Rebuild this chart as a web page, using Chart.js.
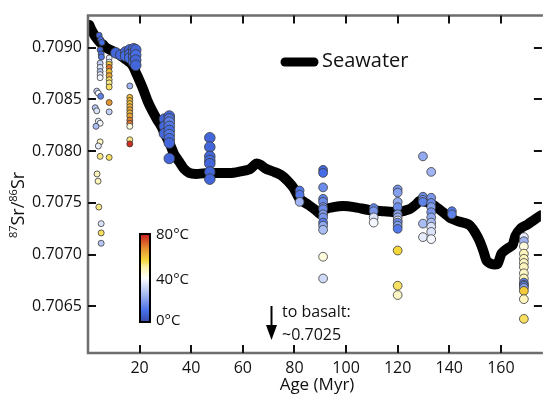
<!DOCTYPE html>
<html><head><meta charset="utf-8">
<script src="https://cdn.jsdelivr.net/npm/chart.js@4.4.1/dist/chart.umd.min.js"></script>
<style>html,body{margin:0;padding:0;background:#fff}#wrap{width:547px;height:399px}</style>
</head><body><div id="wrap"><canvas id="c" width="547" height="399"></canvas></div>
<script>
const xTicks=[20,40,60,80,100,120,140,160];
const yTicks=[0.7065,0.7070,0.7075,0.7080,0.7085,0.7090];

const seaAge=[0.5,1.6,2.8,4.7,5.8,7.0,9.3,12.3,15.0,16.6,17.7,18.9,20.0,21.2,23.0,24.9,26.9,28.4,30.3,31.9,33.4,35.3,37.2,39.2,41.8,46.8,55.6,60.2,62.9,65.2,66.7,69.0,72.1,74.8,77.5,79.8,81.7,83.6,85.5,88.2,90.1,92.0,95.1,98.9,103.1,109.3,114.6,119.6,124.6,127.3,128.4,131.1,133.8,137.6,140.7,143.8,147.6,149.9,151.8,153.3,154.5,156.4,158.7,160.2,162.5,164.5,165.6,167.9,170.2,172.5,175.5];
const seaSr=[0.70922,0.70916,0.70911,0.70905,0.70903,0.70900,0.70897,0.70893,0.70888,0.70885,0.70881,0.70874,0.70868,0.70861,0.70849,0.70839,0.70830,0.70824,0.70814,0.70806,0.70797,0.70790,0.70783,0.70779,0.70778,0.70779,0.70779,0.70781,0.70783,0.70788,0.70787,0.70783,0.70780,0.70777,0.70771,0.70764,0.70755,0.70751,0.70748,0.70743,0.70739,0.70744,0.70746,0.70747,0.70746,0.70743,0.70742,0.70741,0.70744,0.70749,0.70752,0.70751,0.70748,0.70741,0.70735,0.70732,0.70729,0.70722,0.70713,0.70703,0.70694,0.70691,0.70691,0.70701,0.70706,0.70709,0.70718,0.70726,0.70729,0.70733,0.70738];

// young crust & 16 Myr column (small symbols)
const smallAge=[4.3,4.9,5.4,4.7,5.1,5.2,4.7,4.7,4.7,4.7,4.7,8.2,8.2,8.2,8.2,8.2,8.2,8.2,8.2,8.2,8.2,8.2,3.4,4.0,4.9,2.8,3.4,4.0,4.7,3.1,4.7,4.0,4.7,8.2,3.5,3.9,4.2,5.1,5.1,5.1,16.2,16.2,16.2,16.2,16.2,16.2,16.2,16.2,16.2,16.2,16.2,16.2,16.2];
const smallSr=[0.70912,0.70908,0.70905,0.70898,0.70894,0.70891,0.70885,0.70881,0.70877,0.70874,0.70871,0.70890,0.70886,0.70884,0.70881,0.70877,0.70873,0.70869,0.70866,0.70862,0.70847,0.70838,0.70858,0.70856,0.70853,0.70842,0.70839,0.70829,0.70827,0.70824,0.70809,0.70805,0.70795,0.70794,0.70778,0.70771,0.70746,0.70730,0.70721,0.70711,0.70863,0.70852,0.70849,0.70846,0.70843,0.70840,0.70837,0.70834,0.70830,0.70827,0.70824,0.70811,0.70807];
const smallTemp=[8,8,10,8,10,12,30,34,28,36,38,36,38,58,70,60,64,54,52,54,66,30,30,38,14,28,34,36,38,26,48,36,52,54,48,48,52,34,54,28,24,60,62,60,62,64,62,64,68,70,44,52,78];

// large symbols
const bigAge=[10.8,12.7,14.6,14.6,16.2,16.2,16.2,17.7,17.7,17.7,17.7,18.5,18.5,18.5,18.5,29.6,29.6,29.6,31.5,31.5,31.5,31.5,31.5,31.5,31.5,31.5,31.5,47.2,47.2,47.2,47.2,47.2,47.2,47.2];
const bigSr=[0.70895,0.70893,0.70896,0.70892,0.70898,0.70894,0.70890,0.70899,0.70895,0.70891,0.70886,0.70898,0.70893,0.70888,0.70883,0.70831,0.70824,0.70817,0.70834,0.70831,0.70828,0.70824,0.70820,0.70816,0.70812,0.70808,0.70793,0.70813,0.70804,0.70795,0.70791,0.70788,0.70780,0.70773];
const bigTemp=[8,8,8,10,8,8,10,8,10,8,10,8,10,8,8,8,8,8,8,12,14,12,10,12,10,8,8,8,8,8,10,8,8,8];

// medium symbols
const midAge=[82,82,82,91.1,91.1,91.1,91.1,91.1,91.1,91.1,91.1,91.1,91.1,91.1,91.1,91.1,91.1,110.7,110.7,110.7,110.7,120,120,120,120,120,120,120,120,120,120,120,120,120,129.8,129.8,129.8,129.8,129.8,129.8,133,133,133,133,133,133,133,133,133,133,141,141,168.9,168.9,168.9,168.9,168.9,168.9,168.9,168.9,168.9,168.9,168.9,168.9,168.9,168.9,168.9,168.9];
const midSr=[0.70762,0.70758,0.70751,0.70782,0.70779,0.70765,0.70754,0.70751,0.70746,0.70744,0.70739,0.70736,0.70731,0.70728,0.70724,0.70698,0.70677,0.70745,0.70742,0.70736,0.70731,0.70763,0.70760,0.70751,0.70746,0.70739,0.70736,0.70733,0.70731,0.70728,0.70725,0.70704,0.70670,0.70661,0.70795,0.70756,0.70753,0.70751,0.70730,0.70717,0.70780,0.70755,0.70750,0.70746,0.70741,0.70736,0.70731,0.70727,0.70722,0.70715,0.70742,0.70739,0.70717,0.70713,0.70708,0.70701,0.70696,0.70692,0.70688,0.70682,0.70677,0.70673,0.70671,0.70670,0.70668,0.70665,0.70657,0.70638];
const midTemp=[12,12,24,8,10,16,14,16,18,16,20,18,12,22,26,44,32,14,18,34,38,18,20,22,16,20,24,34,16,20,12,56,54,47,22,16,18,14,26,36,24,18,16,20,18,22,26,34,34,38,12,14,36,24,44,48,48,47,48,47,48,14,18,14,20,58,48,54];

const cbarLabels=['80°C','40°C','0°C'];
const cmap=[[0,[55,75,170]],[10,[70,110,230]],[25,[165,185,242]],[40,[255,255,255]],[50,[252,242,170]],[56,[245,215,60]],[66,[230,150,50]],[80,[200,30,30]]];
function tempColor(t){
  t=Math.max(0,Math.min(80,t));
  for(let i=0;i<cmap.length-1;i++){
    const a=cmap[i][0],ca=cmap[i][1],b=cmap[i+1][0],cb=cmap[i+1][1];
    if(t<=b){const f=(t-a)/(b-a);const c=ca.map((v,k)=>Math.round(v+(cb[k]-v)*f));return 'rgb('+c.join(',')+')';}
  }
  return 'rgb(200,30,30)';
}
const FONT='"Open Sans", "Liberation Sans", sans-serif';
function pts(ax,ay){return ax.map((v,i)=>({x:v,y:ay[i]}));}
function scatterDs(ax,ay,at,r){
  return {type:'scatter',data:pts(ax,ay),backgroundColor:at.map(tempColor),borderColor:'#3a3a3a',borderWidth:0.8,pointRadius:r,pointHoverRadius:r,order:1};
}

const overlay={
  id:'overlay',
  afterDraw(chart){
    const {ctx,chartArea:a,scales:{x,y}}=chart;
    ctx.save();
    ctx.strokeStyle='#6e6e6e';ctx.lineWidth=2.5;
    ctx.beginPath();
    ctx.moveTo(a.right+2,a.top);ctx.lineTo(a.left,a.top);ctx.lineTo(a.left,a.bottom);ctx.lineTo(a.right+2,a.bottom);
    ctx.stroke();
    ctx.strokeStyle='#111';ctx.lineWidth=2;
    ctx.beginPath();
    xTicks.forEach(v=>{const p=Math.round(x.getPixelForValue(v));ctx.moveTo(p,a.bottom);ctx.lineTo(p,a.bottom-8);ctx.moveTo(p,a.top);ctx.lineTo(p,a.top+8);});
    yTicks.forEach(v=>{const p=Math.round(y.getPixelForValue(v));ctx.moveTo(a.left,p);ctx.lineTo(a.left+8,p);ctx.moveTo(a.right+1,p);ctx.lineTo(a.right-7,p);});
    ctx.stroke();
    // legend
    ctx.strokeStyle='#000';ctx.lineWidth=9;ctx.lineCap='round';
    ctx.beginPath();ctx.moveTo(285,62);ctx.lineTo(314,62);ctx.stroke();
    ctx.fillStyle='#111';ctx.font='20px '+FONT;ctx.textBaseline='middle';ctx.textAlign='left';
    ctx.fillText('Seawater',322,61);
    // colorbar
    const cx=140,cy=234,cw=10,ch=88;
    const g=ctx.createLinearGradient(0,cy+ch,0,cy);
    for(let t=0;t<=80;t+=2){g.addColorStop(t/80,tempColor(t));}
    ctx.fillStyle=g;ctx.fillRect(cx,cy,cw,ch);
    ctx.lineCap='butt';ctx.strokeStyle='#000';ctx.lineWidth=2;ctx.strokeRect(cx,cy,cw,ch);
    ctx.fillStyle='#111';ctx.font='15px '+FONT;
    ctx.fillText(cbarLabels[0],156,235);
    ctx.fillText(cbarLabels[1],156,280);
    ctx.fillText(cbarLabels[2],156,321);
    // arrow
    ctx.strokeStyle='#000';ctx.lineWidth=2;
    ctx.beginPath();ctx.moveTo(271.5,306);ctx.lineTo(271.5,330);ctx.stroke();
    ctx.fillStyle='#000';ctx.beginPath();ctx.moveTo(266,325);ctx.lineTo(277,325);ctx.lineTo(271.5,340);ctx.closePath();ctx.fill();
    ctx.fillStyle='#111';ctx.font='16px '+FONT;
    ctx.fillText('to basalt:',282,312);
    ctx.fillText('~0.7025',282,335);
    ctx.textAlign='center';ctx.font='17px '+FONT;
    ctx.fillText('Age (Myr)',317,385);
    ctx.translate(18,205);ctx.rotate(-Math.PI/2);
    const parts=[['87',11,-7],['Sr/',18,0],['86',11,-7],['Sr',18,0]];
    let w=0;parts.forEach(p=>{ctx.font=p[1]+'px '+FONT;w+=ctx.measureText(p[0]).width;});
    let px=-w/2;ctx.textAlign='left';ctx.textBaseline='alphabetic';
    parts.forEach(p=>{ctx.font=p[1]+'px '+FONT;ctx.fillText(p[0],px,6+p[2]);px+=ctx.measureText(p[0]).width;});
    ctx.restore();
  }
};

new Chart(document.getElementById('c'),{
  type:'scatter',
  data:{datasets:[
    scatterDs(midAge,midSr,midTemp,4.4),
    scatterDs(bigAge,bigSr,bigTemp,5.3),
    scatterDs(smallAge,smallSr,smallTemp,3),
    {type:'line',data:pts(seaAge,seaSr),borderColor:'#000',borderWidth:10,pointRadius:0,tension:0.2,borderJoinStyle:'round',borderCapStyle:'round',fill:false,order:5}
  ]},
  options:{
    responsive:false,animation:false,devicePixelRatio:1,
    layout:{padding:{left:0,right:0,top:10,bottom:0}},
    plugins:{legend:{display:false},tooltip:{enabled:false}},
    scales:{
      x:{type:'linear',min:0,max:175.5,
        grid:{display:false,drawTicks:false},border:{display:false},
        afterBuildTicks:s=>{s.ticks=xTicks.map(v=>({value:v}));},
        afterFit:s=>{s.height=46;},
        ticks:{font:{family:FONT,size:16},color:'#111',padding:6,maxRotation:0,autoSkip:false}},
      y:{type:'linear',min:0.70605,max:0.70931,
        grid:{display:false,drawTicks:false},border:{display:false},
        afterBuildTicks:s=>{s.ticks=yTicks.map(v=>({value:v}));},
        afterFit:s=>{s.width=88;},
        ticks:{font:{family:FONT,size:16},color:'#111',padding:6,callback:v=>v.toFixed(4),autoSkip:false}}
    }
  },
  plugins:[overlay]
});
</script>
</body></html>
